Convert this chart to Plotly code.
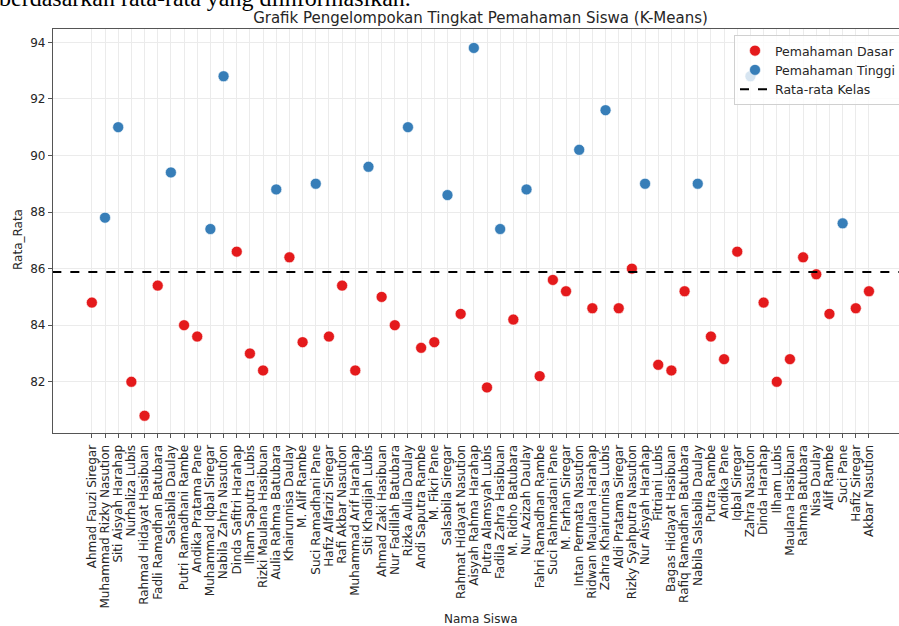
import plotly.graph_objects as go

names = [
    "Ahmad Fauzi Siregar", "Muhammad Rizky Nasution", "Siti Aisyah Harahap", "Nurhaliza Lubis",
    "Rahmad Hidayat Hasibuan", "Fadli Ramadhan Batubara", "Salsabila Daulay", "Putri Ramadhani Rambe",
    "Andika Pratama Pane", "Muhammad Iqbal Siregar", "Nabila Zahra Nasution", "Dinda Safitri Harahap",
    "Ilham Saputra Lubis", "Rizki Maulana Hasibuan", "Aulia Rahma Batubara", "Khairunnisa Daulay",
    "M. Alif Rambe", "Suci Ramadhani Pane", "Hafiz Alfarizi Siregar", "Rafi Akbar Nasution",
    "Muhammad Arif Harahap", "Siti Khadijah Lubis", "Ahmad Zaki Hasibuan", "Nur Fadillah Batubara",
    "Rizka Aulia Daulay", "Andi Saputra Rambe", "M. Fikri Pane", "Salsabila Siregar",
    "Rahmat Hidayat Nasution", "Aisyah Rahma Harahap", "Putra Alamsyah Lubis", "Fadila Zahra Hasibuan",
    "M. Ridho Batubara", "Nur Azizah Daulay", "Fahri Ramadhan Rambe", "Suci Rahmadani Pane",
    "M. Farhan Siregar", "Intan Permata Nasution", "Ridwan Maulana Harahap", "Zahra Khairunnisa Lubis",
    "Aldi Pratama Siregar", "Rizky Syahputra Nasution", "Nur Aisyah Harahap", "Fitriani Lubis",
    "Bagas Hidayat Hasibuan", "Rafiq Ramadhan Batubara", "Nabila Salsabila Daulay", "Putra Rambe",
    "Andika Pane", "Iqbal Siregar", "Zahra Nasution", "Dinda Harahap",
    "Ilham Lubis", "Maulana Hasibuan", "Rahma Batubara", "Nisa Daulay",
    "Alif Rambe", "Suci Pane", "Hafiz Siregar", "Akbar Nasution",
]

rata_rata = [
    84.8, 87.8, 91.0, 82.0, 80.8, 85.4, 89.4, 84.0, 83.6, 87.4,
    92.8, 86.6, 83.0, 82.4, 88.8, 86.4, 83.4, 89.0, 83.6, 85.4,
    82.4, 89.6, 85.0, 84.0, 91.0, 83.2, 83.4, 88.6, 84.4, 93.8,
    81.8, 87.4, 84.2, 88.8, 82.2, 85.6, 85.2, 90.2, 84.6, 91.6,
    84.6, 86.0, 89.0, 82.6, 82.4, 85.2, 89.0, 83.6, 82.8, 86.6,
    92.8, 84.8, 82.0, 82.8, 86.4, 85.8, 84.4, 87.6, 84.6, 85.2,
]

cluster = [
    "D", "T", "T", "D", "D", "D", "T", "D", "D", "T",
    "T", "D", "D", "D", "T", "D", "D", "T", "D", "D",
    "D", "T", "D", "D", "T", "D", "D", "T", "D", "T",
    "D", "T", "D", "T", "D", "D", "D", "T", "D", "T",
    "D", "D", "T", "D", "D", "D", "T", "D", "D", "D",
    "T", "D", "D", "D", "D", "D", "D", "T", "D", "D",
]

y_ticks = [82, 84, 86, 88, 90, 92, 94]

cluster_names = {"D": "Pemahaman Dasar", "T": "Pemahaman Tinggi"}
cluster_colors = {"D": "#e41a1c", "T": "#377eb8"}

mean_val = sum(rata_rata) / len(rata_rata)

FONT = "DejaVu Sans"
fig = go.Figure()

for key in ["D", "T"]:
    xs = [n for n, c in zip(names, cluster) if c == key]
    ys = [v for v, c in zip(rata_rata, cluster) if c == key]
    fig.add_trace(go.Scatter(
        x=xs, y=ys, mode="markers", name=cluster_names[key],
        marker=dict(size=11, color=cluster_colors[key], line=dict(color="white", width=0.6)),
    ))

fig.add_trace(go.Scatter(
    x=[-3, 65], y=[mean_val, mean_val], mode="lines", name="Rata-rata Kelas",
    xaxis="x2", line=dict(color="black", width=2, dash="dash"),
))

W, H = 899, 626
L, R, T, B = 53, 0, 29, 193
PW, PH = W - L - R, H - T - B
XR = [-2.95, 61.28]

fig.update_layout(
    width=W, height=H,
    margin=dict(l=L, r=R, t=T, b=B, autoexpand=False),
    plot_bgcolor="white", paper_bgcolor="white",
    font=dict(family=FONT, size=12, color="#262626"),
    showlegend=True,
    title=dict(text="Grafik Pengelompokan Tingkat Pemahaman Siswa (K-Means)",
               x=480.5 / W, xanchor="center", y=1 - 18 / H, yanchor="middle",
               font=dict(family=FONT, size=15, color="#262626")),
    legend=dict(x=(734 - L) / PW, y=1 - (35 - T) / PH, xanchor="left", yanchor="top",
                bgcolor="rgba(255,255,255,0.8)", bordercolor="#d0d0d0", borderwidth=1,
                font=dict(family=FONT, size=12.5, color="#262626"), tracegroupgap=0,
                itemwidth=30),
    xaxis=dict(
        type="category", categoryorder="array", categoryarray=names,
        tickmode="array", tickvals=names, ticktext=names,
        range=XR, automargin=False,
        tickangle=-90, tickfont=dict(family=FONT, size=12, color="#262626"),
        ticklabelstandoff=2,
        showgrid=True, gridcolor="#ebebeb", gridwidth=1,
        showline=True, linecolor="#555555", linewidth=1.2, mirror=True,
        ticks="outside", ticklen=4, tickcolor="#555555",
        zeroline=False,
    ),
    xaxis2=dict(overlaying="x", range=XR, visible=False, showgrid=False),
    yaxis=dict(
        range=[80.19, 94.47], automargin=False,
        tickmode="array", tickvals=y_ticks,
        tickfont=dict(family=FONT, size=12, color="#262626"),
        showgrid=True, gridcolor="#ebebeb", gridwidth=1,
        showline=True, linecolor="#555555", linewidth=1.2,
        ticks="outside", ticklen=4, tickcolor="#555555",
        zeroline=False,
    ),
)

fig.add_annotation(
    text="berdasarkan rata-rata yang diinformasikan.", xref="paper", yref="paper",
    x=-L / PW - 0.004, y=1 + (T - 13) / PH, xanchor="left", yanchor="bottom",
    showarrow=False, font=dict(family="Liberation Serif", size=24, color="black"),
)

fig.add_annotation(
    text="Nama Siswa", xref="paper", yref="paper",
    x=(480.5 - L) / PW, y=-(619 - T - PH) / PH, xanchor="center", yanchor="middle",
    showarrow=False, font=dict(family=FONT, size=12, color="#262626"),
)

fig.add_annotation(
    text="Rata_Rata", xref="paper", yref="paper", textangle=-90,
    x=-(L - 18) / PW, y=1 - (240 - T) / PH, xanchor="center", yanchor="middle",
    showarrow=False, font=dict(family=FONT, size=12, color="#262626"),
)

fig.write_html(
    "out.html",
    config={"displayModeBar": False},
    post_script="document.body.style.margin='0px';document.body.style.overflow='hidden';",
)
